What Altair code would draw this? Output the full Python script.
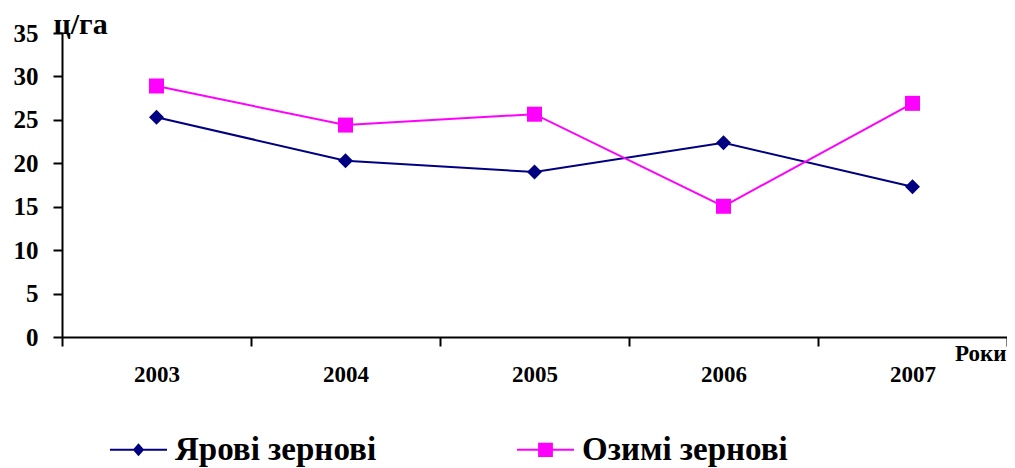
import altair as alt
import pandas as pd

years = ["2003", "2004", "2005", "2006", "2007"]
spring = [25.3, 20.3, 19.0, 22.35, 17.3]     # Ярові зернові
winter = [28.9, 24.4, 25.65, 15.05, 26.9]    # Озимі зернові
series = ["Ярові зернові", "Озимі зернові"]
colors = ["#000080", "#FF00FF"]
y_ticks = [0, 5, 10, 15, 20, 25, 30, 35]

rows = []
for yr, a, b in zip(years, spring, winter):
    rows.append({"Рік": yr, "Серія": series[0], "Значення": a})
    rows.append({"Рік": yr, "Серія": series[1], "Значення": b})
df = pd.DataFrame(rows)

FONT = "Liberation Serif"

# legend symbols: a short line with marker in its middle
legend_paths = [
    "M-1,-0.035H1V0.035H-1Z M0,-0.23L0.2,0L0,0.23L-0.2,0Z",
    "M-1,-0.035H1V0.035H-1Z M-0.26,-0.25H0.26V0.25H-0.26Z",
]

x_enc = alt.X(
    "Рік:O",
    scale=alt.Scale(type="band", paddingInner=0, paddingOuter=0),
    axis=alt.Axis(
        title="Роки", tickBand="extent", labelAngle=0,
        labelFont=FONT, labelFontSize=23, labelFontWeight="bold", labelColor="black",
        labelPadding=17, tickSize=9, tickWidth=2, tickColor="black",
        domainColor="black", domainWidth=2, grid=False,
        titleFont=FONT, titleFontSize=23, titleFontWeight="bold", titleColor="black",
        titleX=944, titleY=23, titleAlign="right", titleBaseline="alphabetic",
    ),
)
y_enc = alt.Y(
    "Значення:Q",
    scale=alt.Scale(domain=[0, 35], nice=False, zero=True),
    axis=alt.Axis(
        title="ц/га", values=y_ticks, titleAngle=0,
        labelFont=FONT, labelFontSize=25, labelFontWeight="bold", labelColor="black",
        labelPadding=15, tickSize=9, tickWidth=2, tickColor="black",
        domainColor="black", domainWidth=2, grid=False,
        titleFont=FONT, titleFontSize=30, titleFontWeight="bold", titleColor="black",
        titleX=-9, titleY=0, titleAlign="left", titleBaseline="alphabetic",
    ),
)

base = alt.Chart(df)

lines = base.mark_line(strokeWidth=2).encode(
    x=x_enc, y=y_enc,
    stroke=alt.Stroke("Серія:N", scale=alt.Scale(domain=series, range=colors), legend=None),
)

points = base.mark_point(filled=True, size=225, opacity=1).encode(
    x=x_enc, y=y_enc,
    fill=alt.Fill("Серія:N", scale=alt.Scale(domain=series, range=colors), legend=None),
    shape=alt.Shape("Серія:N", scale=alt.Scale(domain=series, range=["diamond", "square"]), legend=None),
)

leg = alt.Legend(
    title=None, orient="none", legendX=48, legendY=388, direction="horizontal",
    labelFont=FONT, labelFontSize=33, labelFontWeight="bold", labelColor="black",
    labelLimit=400, symbolSize=3249, symbolStrokeWidth=0, labelOffset=8,
    columnPadding=140, padding=0,
)

legend_layer = base.transform_filter("false").mark_point(filled=True, opacity=1).encode(
    x=x_enc, y=y_enc,
    fill=alt.Fill("Серія:N", scale=alt.Scale(domain=series, range=colors), legend=leg),
    shape=alt.Shape("Серія:N", scale=alt.Scale(domain=series, range=legend_paths), legend=leg),
)

chart = alt.layer(lines, points, legend_layer).resolve_scale(
    fill="independent", shape="independent"
).properties(
    width=945, height=304,
    autosize=alt.AutoSizeParams(type="none"),
    padding={"left": 54, "top": 25, "right": 0, "bottom": 131},
    background="white",
).configure_view(stroke=None).configure_legend(
    labelFont=FONT, labelFontSize=33, labelFontWeight="bold", labelColor="black",
    labelLimit=400,
)

chart.save("out.html", embed_options={"renderer": "svg", "actions": False})
